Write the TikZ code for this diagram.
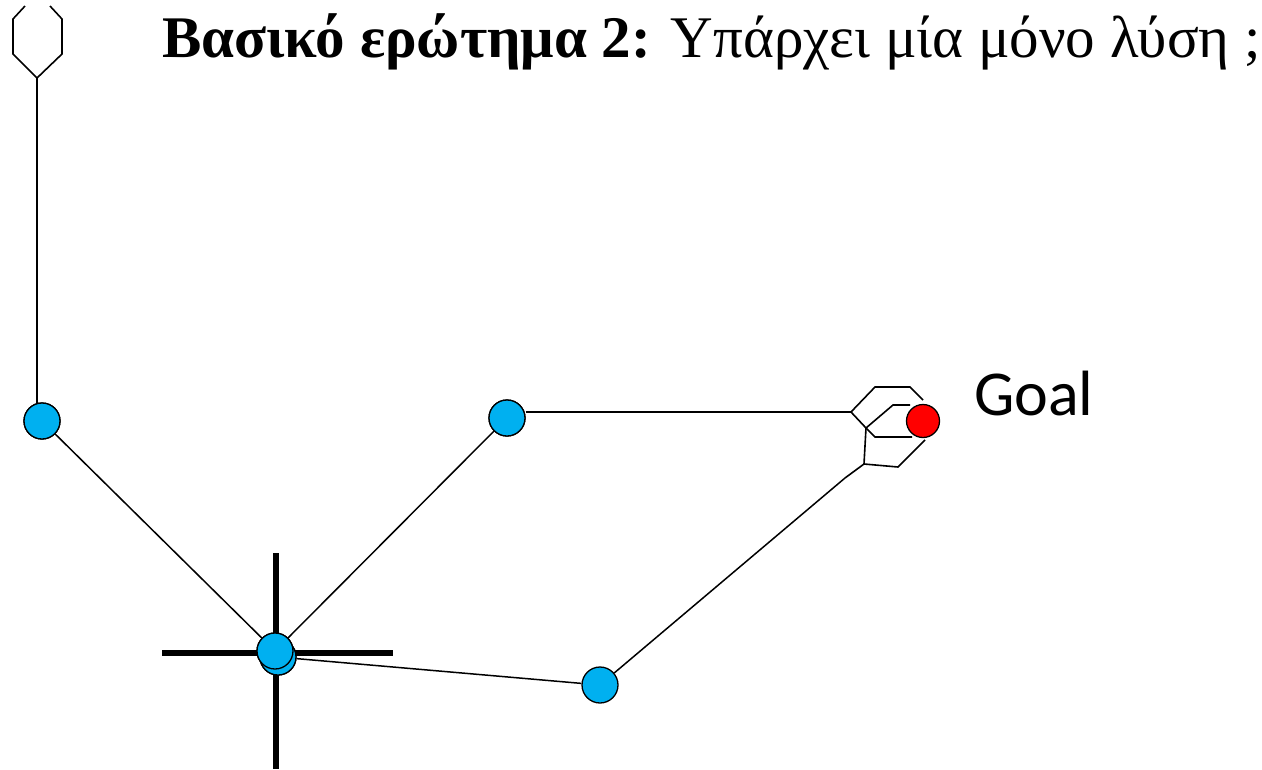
\documentclass[tikz,border=0pt]{standalone}
\usepackage{fontspec}
\setmainfont{Liberation Serif}
\newfontfamily\goalfont{Carlito}
\definecolor{nodeblue}{HTML}{00B0F0}
\definecolor{goalred}{HTML}{FF0000}
\tikzset{
  vertex/.style={circle, draw=black, line width=1.3pt, fill=nodeblue, minimum size=36pt, inner sep=0pt},
  goalvertex/.style={circle, draw=black, line width=1.3pt, fill=goalred, minimum size=33pt, inner sep=0pt},
  edge/.style={draw=black, line width=1.5pt},
  marker/.style={draw=black, line width=6pt},
  sensor/.style={draw=black, line width=1.6pt, line join=miter},
}
\begin{document}
\begin{tikzpicture}[x=1pt, y=-1pt]
\useasboundingbox (0,0) rectangle (1262,769);

% title
\node[anchor=base west, inner sep=0pt, font=\fontsize{59}{60}\selectfont] (title) at (162,57)
  {\textbf{Βασικό ερώτημα 2:} Υπάρχει μία μόνο λύση ;};

% start marker (cross)
\coordinate (crossT) at (276,553);
\coordinate (crossB) at (276,769);
\coordinate (crossL) at (162,653);
\coordinate (crossR) at (393,653);
\draw[marker] (crossT) -- (crossB);
\draw[marker] (crossL) -- (crossR);

% sensor shapes
\coordinate (topstem) at (37,78);
\coordinate (stemend) at (37,405);
\draw[sensor] (25,6) -- (13,19) -- (13,54) -- (topstem) -- (62,54) -- (62,19) -- (50,6);

\coordinate (hexA) at (851,412);
\coordinate (hexB) at (864,464);
\coordinate (hexC) at (845,478);
\draw[sensor] (hexA) -- (875,387) -- (910,387) -- (923,400);
\draw[sensor] (hexA) -- (866,428) -- (875,437) -- (912,437);
\draw[sensor] (hexC) -- (hexB) -- (898,467) -- (925,440);
\draw[sensor] (hexB) -- (866,428) -- (893,405) -- (910,405);

% vertices and edges
\node[vertex] (n1) at (42,421) {};
\node[vertex] (n2) at (507,418) {};
\node[vertex] (n3) at (600,685) {};
\node[vertex] (s2) at (278,657) {};
\node[vertex] (s1) at (275,651) {};

\draw[edge] (topstem) -- (stemend);
\draw[edge] (n1) -- (s1);
\draw[edge] (s1) -- (n2);
\draw[edge] (n2.east |- hexA) -- (hexA);
\draw[edge] (s2) -- (n3);
\draw[edge] (n3) -- (hexC);

\node[vertex] at (278,657) {};
\node[vertex] at (275,651) {};
\node[vertex] at (42,421) {};
\node[vertex] at (507,418) {};

% goal
\node[goalvertex] (goal) at (923,421) {};
\node[anchor=base west, inner sep=0pt, font=\goalfont\fontsize{64}{66}\selectfont] (goallabel) at (974,415) {Goal};
\end{tikzpicture}
\end{document}
